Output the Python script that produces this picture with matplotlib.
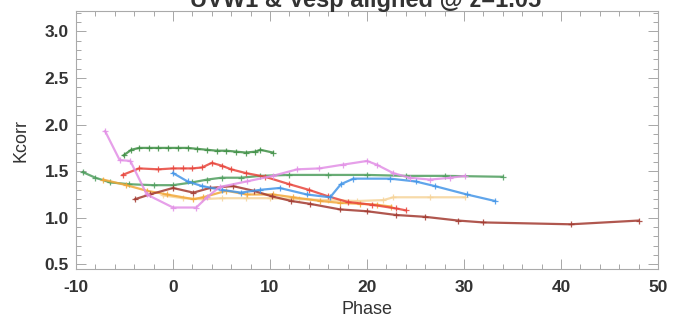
import matplotlib
matplotlib.use("Agg")
import matplotlib.pyplot as plt
from matplotlib.ticker import MultipleLocator

plt.rcParams['font.family'] = ['Liberation Sans', 'DejaVu Sans']

title = "UVW1 & Vesp aligned @ z=1.05"
xlabel = "Phase"
ylabel = "Kcorr"

# K-correction curves per supernova: (phase, Kcorr)
tan_phase = [-1, 1, 3, 5, 7.5, 10, 13, 16, 19, 21.7, 22.7, 26.5, 30.1]
tan_k = [1.24, 1.21, 1.20, 1.21, 1.21, 1.21, 1.20, 1.19, 1.18, 1.19, 1.22, 1.22, 1.22]

green_long_phase = [-9.3, -8, -6.5, -4.5, -2, 0, 2, 3.5, 5, 7, 9, 12, 16, 20, 24, 28, 34]
green_long_k = [1.49, 1.43, 1.38, 1.36, 1.35, 1.35, 1.38, 1.41, 1.43, 1.43, 1.45, 1.46,
                1.46, 1.46, 1.45, 1.45, 1.44]

green_top_phase = [-5.1, -4.3, -3.5, -2.5, -1.5, -0.5, 0.5, 1.5, 2.5, 3.5, 4.5, 5.5, 6.5,
                   7.5, 8.5, 9.0, 10.3]
green_top_k = [1.67, 1.73, 1.75, 1.75, 1.75, 1.75, 1.75, 1.75, 1.74, 1.73, 1.72, 1.72,
               1.71, 1.70, 1.71, 1.73, 1.70]

red_phase = [-5.2, -3.5, -1.5, 0, 1, 2, 3, 4, 5, 6, 7.5, 9.5, 12, 14, 16, 18, 20.5, 23, 24]
red_k = [1.46, 1.53, 1.52, 1.53, 1.53, 1.53, 1.54, 1.59, 1.56, 1.52, 1.48, 1.44, 1.36,
         1.30, 1.23, 1.17, 1.14, 1.10, 1.08]

orange_phase = [-7.2, -4.8, -2.7, -0.6, 2.1, 3.1, 5.5, 7.6, 10.3, 12.4, 15.2, 17.2, 19.3,
                21, 22.5]
orange_k = [1.41, 1.35, 1.29, 1.25, 1.20, 1.22, 1.29, 1.25, 1.25, 1.22, 1.18, 1.16, 1.15,
            1.14, 1.12]

brown_phase = [-3.9, -2.4, 0, 2.1, 3.8, 6.2, 8.3, 10.2, 12.2, 14.1, 17.2, 20, 23, 26, 29.4,
               32, 41, 48]
brown_k = [1.20, 1.25, 1.32, 1.27, 1.32, 1.34, 1.29, 1.23, 1.18, 1.15, 1.09, 1.07, 1.03,
           1.01, 0.97, 0.95, 0.93, 0.97]

blue_phase = [0, 1.5, 3, 5, 7, 9, 11, 13.8, 16.2, 17.3, 18.6, 22.4, 25, 27, 30.3, 33.2]
blue_k = [1.48, 1.39, 1.34, 1.30, 1.27, 1.30, 1.32, 1.25, 1.22, 1.36, 1.42, 1.42, 1.39,
          1.34, 1.25, 1.18]

pink_phase = [-7, -5.5, -4.4, -2.7, 0, 2.4, 3.5, 4.8, 7.6, 10.3, 12.8, 15.1, 17.5, 20, 21,
              22.7, 24.4, 26.5, 28.6, 30.1]
pink_k = [1.93, 1.62, 1.61, 1.25, 1.11, 1.11, 1.22, 1.33, 1.39, 1.45, 1.52, 1.53, 1.57,
          1.61, 1.57, 1.48, 1.43, 1.41, 1.43, 1.45]

series = [
    (tan_phase, tan_k, '#f6d49a'),
    (green_long_phase, green_long_k, '#4f9e5e'),
    (green_top_phase, green_top_k, '#3f8f45'),
    (orange_phase, orange_k, '#f2a83a'),
    (brown_phase, brown_k, '#a33a30'),
    (red_phase, red_k, '#e8453c'),
    (blue_phase, blue_k, '#4496e8'),
    (pink_phase, pink_k, '#e28fe6'),
]

fig = plt.figure(figsize=(6.73, 3.2), dpi=100)
ax = fig.add_axes([76 / 673, 1 - 269 / 320, (658 - 76) / 673, (269 - 11) / 320])

for ph, k, col in series:
    ax.plot(ph, k, color=col, lw=1.6, marker='+', ms=5, mew=0.9, alpha=0.85)

ax.set_xlim(-10, 50)
ax.set_ylim(0.45, 3.22)
ax.xaxis.set_minor_locator(MultipleLocator(2))
ax.yaxis.set_minor_locator(MultipleLocator(0.1))
ax.tick_params(which='both', direction='in', top=True, right=True, color='#999999', width=0.6)
ax.tick_params(which='major', length=7)
ax.tick_params(which='minor', length=3.5)
ax.tick_params(axis='x', labelsize=12.5, pad=8)
ax.tick_params(axis='y', labelsize=12.5, pad=5)
for sp in ax.spines.values():
    sp.set_color('#aaaaaa')
    sp.set_linewidth(0.8)

ax.set_xticks(range(-10, 51, 10))
ax.set_xticklabels(['-10', '0', '10', '20', '30', '40', '50'], fontweight='bold')
ax.set_yticks([0.5, 1.0, 1.5, 2.0, 2.5, 3.0])
ax.set_yticklabels(['0.5', '1.0', '1.5', '2.0', '2.5', '3.0'], fontweight='bold')
for lbl in ax.get_xticklabels() + ax.get_yticklabels():
    lbl.set_color('#333333')

ax.set_xlabel(xlabel, fontsize=13, labelpad=4, color='#333333')
ax.set_ylabel(ylabel, fontsize=13, labelpad=11, color='#333333')

fig.text(366 / 673, 1 - 7.5 / 320, title, ha='center', va='baseline',
         fontsize=17, fontweight='bold', color='#333333')

fig.savefig('out.png', dpi=100)
